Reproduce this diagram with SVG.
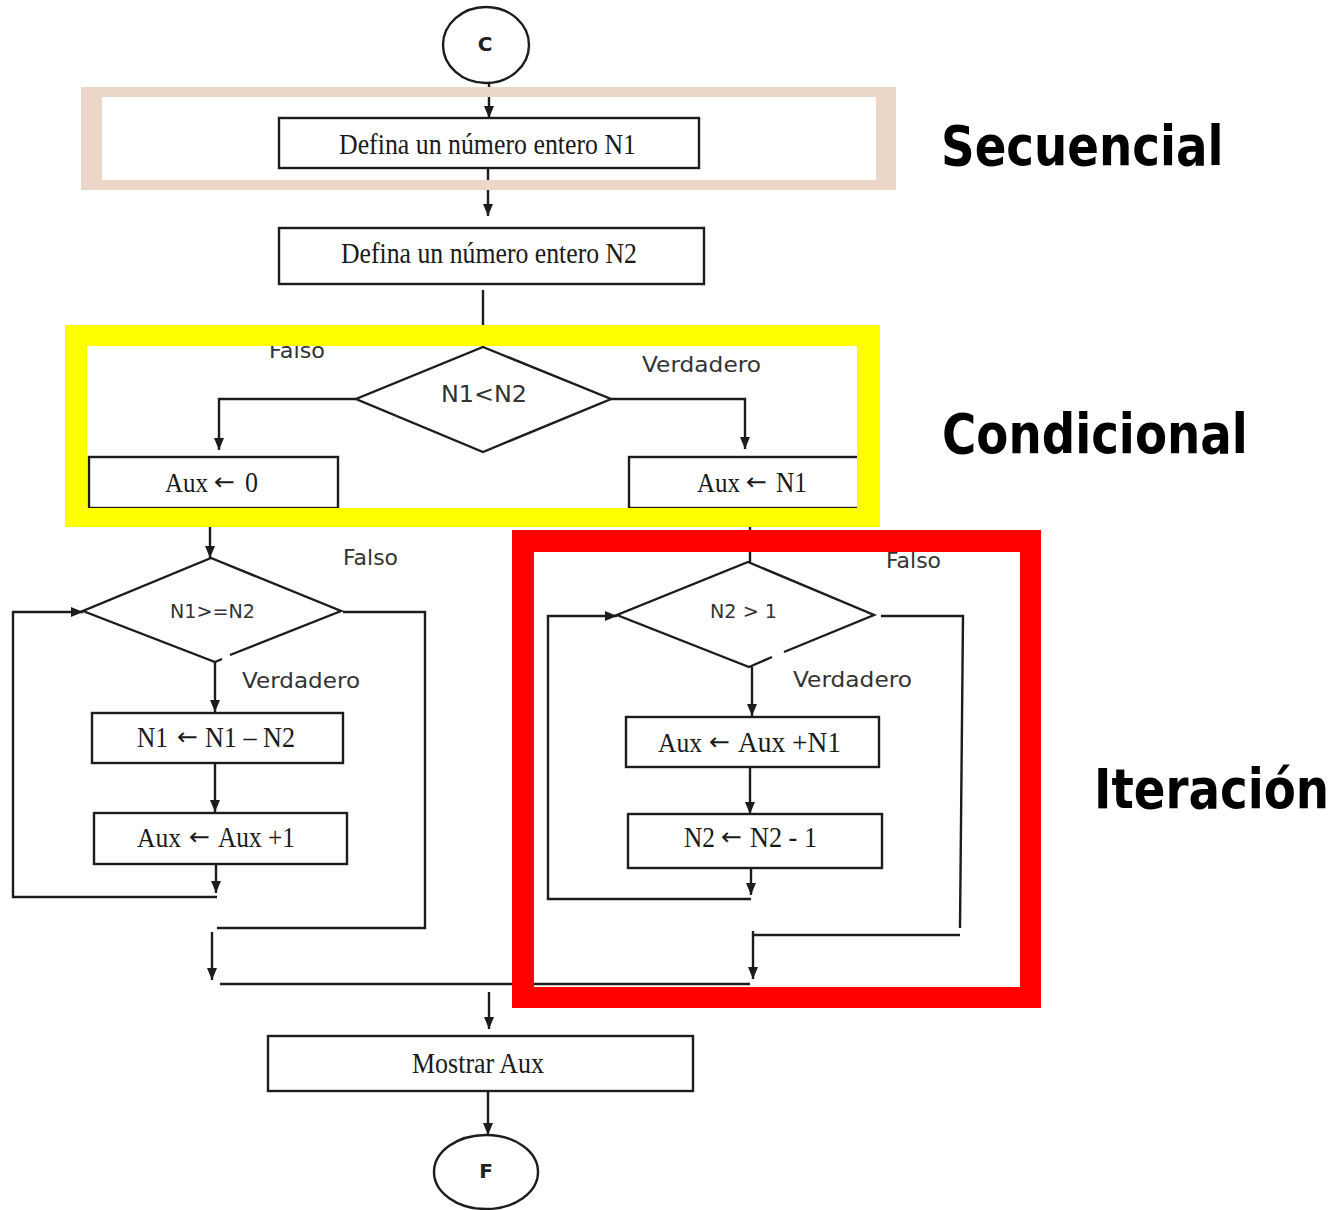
<svg xmlns="http://www.w3.org/2000/svg" width="1343" height="1210" viewBox="0 0 1343 1210">
<style>
.shape{fill:#fff;stroke:#1c1c1c;stroke-width:2.4}
.dia{fill:none;stroke:#1c1c1c;stroke-width:2.4;stroke-linejoin:miter}
.ln{fill:none;stroke:#1c1c1c;stroke-width:2.4}
.arr{marker-end:url(#ah)}
.serif{font-family:"Liberation Serif","Times New Roman",serif;font-size:29px;fill:#1a1a1a}
.sm{font-size:27px}
.mid{text-anchor:middle}
.ar{font-family:"DejaVu Sans","Liberation Sans",sans-serif;font-size:24px;fill:#1a1a1a}
.sans{font-family:"DejaVu Sans","Liberation Sans",sans-serif;fill:#333;}
.term{font-family:"DejaVu Sans","Liberation Sans",sans-serif;font-weight:bold;font-size:20px;fill:#222;text-anchor:middle}
.big{font-family:"DejaVu Sans","Liberation Sans",sans-serif;font-weight:bold;font-size:55px;fill:#000}
</style>
<defs>
<marker id="ah" viewBox="0 0 12 10" refX="12" refY="5" markerWidth="12" markerHeight="10" orient="auto" markerUnits="userSpaceOnUse">
<path d="M0,0 L12,5 L0,10 z" fill="#1c1c1c"/>
</marker>
</defs>
<rect x="0" y="0" width="1343" height="1210" fill="#fff"/>

<g id="connectors">
<path class="ln arr" d="M489,83 V118"/>
<path class="ln arr" d="M488,168 V216"/>
<path class="ln" d="M483,290 V347"/>
<path class="ln arr" d="M356,399 H219 V450"/>
<path class="ln arr" d="M611,399 H745 V449"/>
<path class="ln arr" d="M210,508 V558"/>
<path class="ln" d="M750,508 V562"/>
<path class="ln arr" d="M215,662 V712"/>
<path class="ln arr" d="M215,763 V812"/>
<path class="ln arr" d="M216,864 V893"/>
<path class="ln arr" d="M217,897 H13 V612 H83"/>
<path class="ln" d="M343,612 H425 V928 H217"/>
<path class="ln arr" d="M212,932 V980"/>
<path class="ln" d="M220,984 H750"/>
<path class="ln arr" d="M489,992 V1029"/>
<path class="ln arr" d="M488,1091 V1135"/>
<path class="ln arr" d="M752,667 V716"/>
<path class="ln arr" d="M750,767 V814"/>
<path class="ln arr" d="M751,868 V895"/>
<path class="ln arr" d="M751,899 H548 V616 H617"/>
<path class="ln" d="M881,616 H963 L960,928"/>
<path class="ln" d="M960,935 H753"/>
<path class="ln arr" d="M753,931 V979"/>
</g>

<g id="node-inicio">
<ellipse class="shape" cx="486" cy="45" rx="43" ry="38"/>
<text class="term" x="485" y="51">C</text>
</g>

<g id="node-n1">
<rect class="shape" x="279" y="118" width="420" height="50"/>
<text class="serif mid" x="487.5" y="154" textLength="297" lengthAdjust="spacingAndGlyphs">Defina un número entero N1</text>
</g>

<g id="node-n2">
<rect class="shape" x="279" y="228" width="425" height="56"/>
<text class="serif mid" x="489" y="263" textLength="296" lengthAdjust="spacingAndGlyphs">Defina un número entero N2</text>
</g>

<g id="node-cond1">
<path class="dia" d="M483,347 L611,399 L483,452 L356,399 Z"/>
<text class="sans" x="484" y="402" font-size="23" text-anchor="middle" textLength="86" lengthAdjust="spacingAndGlyphs">N1&lt;N2</text>
<text class="sans" x="269" y="358" font-size="21" textLength="56" lengthAdjust="spacingAndGlyphs">Falso</text>
<text class="sans" x="642" y="372" font-size="21" textLength="119" lengthAdjust="spacingAndGlyphs">Verdadero</text>
</g>

<g id="node-aux0">
<rect class="shape" x="89" y="457" width="249" height="51"/>
<text class="serif sm" x="165" y="492" textLength="43" lengthAdjust="spacingAndGlyphs">Aux</text>
<text class="ar" x="214" y="490" textLength="21" lengthAdjust="spacingAndGlyphs">←</text>
<text class="serif" x="245" y="492" textLength="13" lengthAdjust="spacingAndGlyphs">0</text>
</g>

<g id="node-auxn1">
<rect class="shape" x="629" y="457" width="241" height="51"/>
<text class="serif sm" x="697" y="492" textLength="43" lengthAdjust="spacingAndGlyphs">Aux</text>
<text class="ar" x="746" y="490" textLength="21" lengthAdjust="spacingAndGlyphs">←</text>
<text class="serif" x="776" y="492" textLength="31" lengthAdjust="spacingAndGlyphs">N1</text>
</g>

<g id="node-cond2">
<path class="dia" d="M222,659 L215,662 L83,611 L211,558 L341,611 L230,655"/>
<text class="sans" x="212.5" y="618" font-size="19" text-anchor="middle" textLength="85" lengthAdjust="spacingAndGlyphs">N1&gt;=N2</text>
<text class="sans" x="343" y="565" font-size="21" textLength="55" lengthAdjust="spacingAndGlyphs">Falso</text>
<text class="sans" x="242" y="688" font-size="21" textLength="118" lengthAdjust="spacingAndGlyphs">Verdadero</text>
</g>

<g id="node-resta">
<rect class="shape" x="92" y="713" width="251" height="50"/>
<text class="serif" x="137" y="747" textLength="31" lengthAdjust="spacingAndGlyphs">N1</text>
<text class="ar" x="177" y="745" textLength="21" lengthAdjust="spacingAndGlyphs">←</text>
<text class="serif" x="205" y="747" textLength="90" lengthAdjust="spacingAndGlyphs">N1 – N2</text>
</g>

<g id="node-inc">
<rect class="shape" x="94" y="813" width="253" height="51"/>
<text class="serif sm" x="137" y="847" textLength="44" lengthAdjust="spacingAndGlyphs">Aux</text>
<text class="ar" x="189" y="845" textLength="21" lengthAdjust="spacingAndGlyphs">←</text>
<text class="serif" x="218" y="847" textLength="77" lengthAdjust="spacingAndGlyphs">Aux +1</text>
</g>

<g id="node-cond3">
<path class="dia" d="M772,657 L749,667 L617,615 L748,562 L874,615 L784,652"/>
<text class="sans" x="743.5" y="618" font-size="19" text-anchor="middle" textLength="67" lengthAdjust="spacingAndGlyphs">N2 &gt; 1</text>
<text class="sans" x="886" y="568" font-size="21" textLength="55" lengthAdjust="spacingAndGlyphs">Falso</text>
<text class="sans" x="793" y="687" font-size="21" textLength="119" lengthAdjust="spacingAndGlyphs">Verdadero</text>
</g>

<g id="node-suma">
<rect class="shape" x="626" y="717" width="253" height="50"/>
<text class="serif sm" x="658" y="752" textLength="44" lengthAdjust="spacingAndGlyphs">Aux</text>
<text class="ar" x="709" y="750" textLength="21" lengthAdjust="spacingAndGlyphs">←</text>
<text class="serif" x="738" y="752" textLength="103" lengthAdjust="spacingAndGlyphs">Aux +N1</text>
</g>

<g id="node-dec">
<rect class="shape" x="628" y="814" width="254" height="54"/>
<text class="serif" x="684" y="847" textLength="31" lengthAdjust="spacingAndGlyphs">N2</text>
<text class="ar" x="721" y="845" textLength="21" lengthAdjust="spacingAndGlyphs">←</text>
<text class="serif" x="750" y="847" textLength="67" lengthAdjust="spacingAndGlyphs">N2 - 1</text>
</g>

<g id="node-mostrar">
<rect class="shape" x="268" y="1036" width="425" height="55"/>
<text class="serif mid" x="478" y="1073" textLength="132" lengthAdjust="spacingAndGlyphs">Mostrar Aux</text>
</g>

<g id="node-fin">
<ellipse class="shape" cx="486" cy="1172" rx="52" ry="37"/>
<text class="term" x="486" y="1178">F</text>
</g>

<g id="frames">
<path fill="#EBD6C8" fill-rule="evenodd" d="M81,87 H896 V190 H81 Z M102,97 V180 H876 V97 Z"/>
<path fill="#FFFF00" fill-rule="evenodd" d="M65,325 H880 V527 H65 Z M87,346 V508 H857 V346 Z"/>
<path fill="#FF0000" fill-rule="evenodd" d="M512,530 H1041 V1008 H512 Z M534,552 V987 H1020 V552 Z"/>
</g>

<g id="labels">
<text class="big" transform="translate(941,165) scale(0.85,1)" x="0" y="0">Secuencial</text>
<text class="big" transform="translate(942,453) scale(0.85,1)" x="0" y="0">Condicional</text>
<text class="big" transform="translate(1094,808) scale(0.85,1)" x="0" y="0">Iteración</text>
</g>
</svg>
